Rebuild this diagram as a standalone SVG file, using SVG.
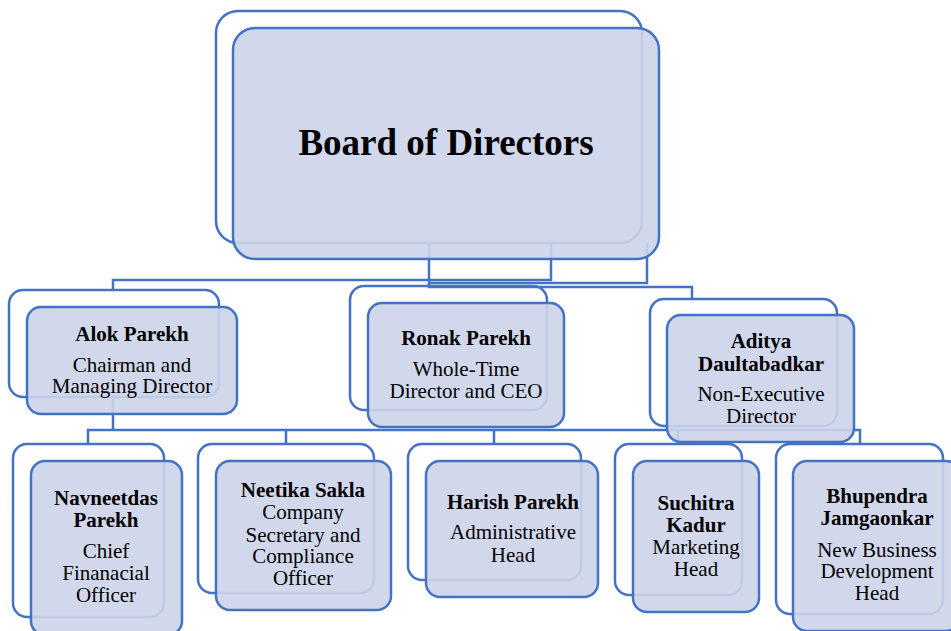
<svg xmlns="http://www.w3.org/2000/svg" width="951" height="631" viewBox="0 0 951 631">
<style>
.back{fill:none;stroke:#4472c4;stroke-width:2.5}
.front{fill:#cdd4e9;fill-opacity:0.9;stroke:#4472c4;stroke-width:2.5}
.conn{fill:none;stroke:#4472c4;stroke-width:2.5}
text{font-family:"Liberation Serif","Times New Roman",serif;font-size:21px;fill:#000;text-anchor:middle}
.b{font-weight:bold}
.title{font-size:37px;font-weight:bold}
</style>
<rect x="0" y="0" width="951" height="631" fill="#fff"/>
<g id="connectors">
<polyline class="conn" points="113,290 113,280 551,280 551,243"/>
<polyline class="conn" points="429,243 429,283 647,283 647,243"/>
<polyline class="conn" points="429,283 429,287 692,287 692,299"/>
<line class="conn" x1="113" y1="397" x2="113" y2="430"/>
<polyline class="conn" points="88,444 88,430 860,430 860,444"/>
<line class="conn" x1="286" y1="430" x2="286" y2="444"/>
<line class="conn" x1="494" y1="430" x2="494" y2="444"/>
<line class="conn" x1="678" y1="430" x2="678" y2="444"/>
</g>
<g id="board">
<rect class="back" x="216" y="11" width="426" height="232" rx="22"/>
<rect class="front" x="233" y="28" width="426" height="231" rx="22"/>
<text class="title" x="446" y="155">Board of Directors</text>
</g>
<g id="alok">
<rect class="back" x="9" y="290" width="210" height="107" rx="14"/>
<rect class="front" x="27" y="307" width="210" height="107" rx="14"/>
<text class="b" x="132" y="341">Alok Parekh</text>
<text x="132" y="372">Chairman and</text>
<text x="132" y="393">Managing Director</text>
</g>
<g id="ronak">
<rect class="back" x="350" y="286" width="197" height="124" rx="14"/>
<rect class="front" x="368" y="303" width="196" height="124" rx="14"/>
<text class="b" x="466" y="345">Ronak Parekh</text>
<text x="466" y="376">Whole-Time</text>
<text x="466" y="398">Director and CEO</text>
</g>
<g id="aditya">
<rect class="back" x="650" y="299" width="187" height="127" rx="14"/>
<rect class="front" x="667" y="315" width="187" height="127" rx="14"/>
<text class="b" x="761" y="348">Aditya</text>
<text class="b" x="761" y="371">Daultabadkar</text>
<text x="761" y="401">Non-Executive</text>
<text x="761" y="423">Director</text>
</g>
<g id="navneetdas">
<rect class="back" x="13" y="444" width="151" height="173" rx="14"/>
<rect class="front" x="31" y="461" width="151" height="174" rx="14"/>
<text class="b" x="106" y="505">Navneetdas</text>
<text class="b" x="106" y="527">Parekh</text>
<text x="106" y="558">Chief</text>
<text x="106" y="580">Finanacial</text>
<text x="106" y="602">Officer</text>
</g>
<g id="neetika">
<rect class="back" x="198" y="444" width="176" height="149" rx="14"/>
<rect class="front" x="216" y="461" width="175" height="149" rx="14"/>
<text class="b" x="303" y="497">Neetika Sakla</text>
<text x="303" y="519">Company</text>
<text x="303" y="542">Secretary and</text>
<text x="303" y="563">Compliance</text>
<text x="303" y="585">Officer</text>
</g>
<g id="harish">
<rect class="back" x="408" y="444" width="173" height="136" rx="14"/>
<rect class="front" x="426" y="461" width="172" height="136" rx="14"/>
<text class="b" x="513" y="509">Harish Parekh</text>
<text x="513" y="539">Administrative</text>
<text x="513" y="562">Head</text>
</g>
<g id="suchitra">
<rect class="back" x="615" y="444" width="127" height="151" rx="14"/>
<rect class="front" x="633" y="461" width="126" height="151" rx="14"/>
<text class="b" x="696" y="510">Suchitra</text>
<text class="b" x="696" y="532">Kadur</text>
<text x="696" y="554">Marketing</text>
<text x="696" y="576">Head</text>
</g>
<g id="bhupendra">
<rect class="back" x="776" y="444" width="167" height="170" rx="14"/>
<rect class="front" x="793" y="461" width="167" height="170" rx="14"/>
<text class="b" x="877" y="503">Bhupendra</text>
<text class="b" x="877" y="525">Jamgaonkar</text>
<text x="877" y="557">New Business</text>
<text x="877" y="578">Development</text>
<text x="877" y="600">Head</text>
</g>
</svg>
